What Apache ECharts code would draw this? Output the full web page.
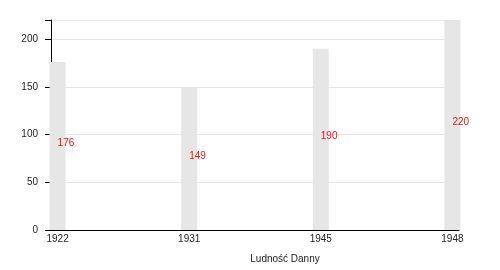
<!DOCTYPE html>
<html>
<head>
<meta charset="utf-8">
<script src="https://cdn.jsdelivr.net/npm/echarts@6/dist/echarts.min.js"></script>
<style>html,body{margin:0;padding:0;background:#fff}#c{width:500px;height:270px}</style>
</head>
<body>
<div id="c"></div>
<script>
const years = ['1922', '1931', '1945', '1948'];
const population = [176, 149, 190, 220];
const yTicks = [0, 50, 100, 150, 200];
const axisName = 'Ludność Danny';

const chart = echarts.init(document.getElementById('c'), null, {renderer: 'canvas'});
const font = 'Liberation Sans, Arial, sans-serif';
chart.setOption({
  animation: false,
  grid: {left: 51, right: 41, top: 20, bottom: 40, containLabel: false},
  xAxis: {
    type: 'value',
    min: -0.05,
    max: 3.05,
    name: axisName,
    nameLocation: 'middle',
    nameGap: 24,
    nameTextStyle: {color: '#222', fontFamily: font, fontSize: 10, padding: [0, 0, 0, 60]},
    axisLine: {show: true, onZero: false, lineStyle: {color: '#000', width: 1}},
    axisTick: {show: false},
    splitLine: {show: false},
    axisLabel: {
      customValues: years.map((_, i) => i),
      formatter: v => years[Math.round(v)],
      color: '#222', fontFamily: font, fontSize: 10, margin: 4
    }
  },
  yAxis: {
    type: 'value',
    min: 0,
    max: 220,
    interval: 50,
    axisLine: {show: true, onZero: false, lineStyle: {color: '#000', width: 1}},
    axisTick: {show: true, length: 6, lineStyle: {color: '#000'}},
    splitLine: {show: true, lineStyle: {color: '#e6e6e6', width: 1}},
    axisLabel: {
      customValues: yTicks,
      color: '#222', fontFamily: font, fontSize: 10, margin: 13
    }
  },
  series: [{
    type: 'bar',
    data: population.map((v, i) => [i, v]),
    barWidth: 16,
    clip: true,
    itemStyle: {color: '#e6e6e6'},
    label: {
      show: true,
      position: 'inside',
      align: 'left',
      verticalAlign: 'middle',
      offset: [0, -3],
      color: '#ee1111',
      fontFamily: font,
      fontSize: 10
    }
  }]
});
</script>
</body>
</html>
